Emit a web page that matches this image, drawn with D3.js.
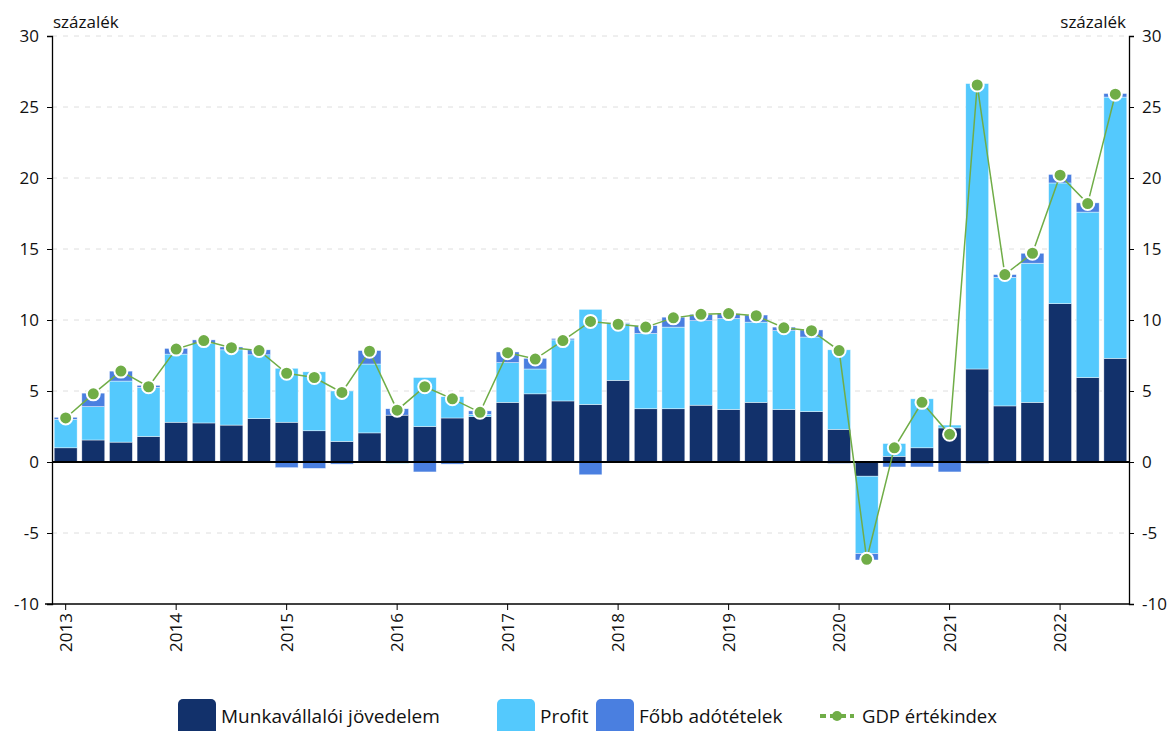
<!DOCTYPE html>
<html>
<head>
<meta charset="utf-8">
<script src="https://cdn.jsdelivr.net/npm/d3@7"></script>
<style>
  body { margin: 0; background: #fff; }
  svg text { font-family: "Open Sans", "Noto Sans", sans-serif; fill: #111; }
</style>
</head>
<body>
<div id="chart"></div>
<script>
// quarterly data 2013Q1 - 2022Q3
const years = ["2013","2014","2015","2016","2017","2018","2019","2020","2021","2022"];
const compensation = [1.0,1.55,1.4,1.8, 2.8,2.75,2.6,3.05, 2.8,2.2,1.45,2.05, 3.3,2.5,3.1,3.2,
  4.2,4.8,4.3,4.05, 5.75,3.75,3.75,4.0, 3.7,4.2,3.7,3.55, 2.3,-1.0,0.4,1.0, 2.4,6.55,3.95,4.2, 11.15,5.95,7.3];
const profit = [2.0,2.35,4.3,3.45, 4.8,5.6,5.3,4.5, 3.8,4.15,3.55,4.85, -0.1,3.45,1.5,0.15,
  2.8,1.75,4.3,6.7, 4.0,5.3,5.75,5.95, 6.4,5.65,5.55,5.25, 5.6,-5.45,0.9,3.45, 0.2,20.1,9.05,9.8, 8.5,11.65,18.4];
const taxes = [0.15,0.95,0.7,0.15, 0.4,0.25,0.2,0.35, -0.4,-0.45,-0.15,0.95, 0.45,-0.7,-0.15,0.25,
  0.75,0.75,0.1,-0.9, 0.05,0.55,0.7,0.45, 0.35,0.5,0.25,0.5, -0.1,-0.45,-0.35,-0.35, -0.7,-0.1,0.2,0.7, 0.6,0.65,0.25];
const gdp = [3.1,4.8,6.4,5.3, 7.95,8.55,8.05,7.85, 6.25,5.95,4.9,7.8, 3.65,5.3,4.45,3.5,
  7.7,7.25,8.55,9.9, 9.7,9.5,10.15,10.4, 10.45,10.3,9.45,9.25, 7.85,-6.85,1.0,4.2, 1.95,26.55,13.2,14.7, 20.2,18.2,25.9];
const yTicks = [-10,-5,0,5,10,15,20,25,30];

const seriesNames = ["Munkavállalói jövedelem", "Profit", "Főbb adótételek"];
const colors = ["#12316b", "#54c9fd", "#4a7fe0"];
const green = "#70ad47";

const width = 1174, height = 731;
const svg = d3.select("#chart").append("svg")
    .attr("width", width).attr("height", height);

const quarters = d3.range(compensation.length);
const x = d3.scaleBand().domain(quarters).range([52, 1129]).paddingInner(0.17).paddingOuter(0.08);
const y = d3.scaleLinear().domain([-10, 30]).range([604, 36]);

// grid lines
svg.append("g").selectAll("line")
    .data(yTicks.filter(d => d !== 0 && d !== -10))
    .enter().append("line")
    .attr("x1", 52).attr("x2", 1129)
    .attr("y1", d => y(d)).attr("y2", d => y(d))
    .attr("stroke", "#dedede").attr("stroke-dasharray", "5,6");

// stacked bars, positives up and negatives down
const stacks = quarters.map(i => {
    let pos = 0, neg = 0;
    return [compensation[i], profit[i], taxes[i]].map((v, k) => {
        let y0, y1;
        if (v >= 0) { y0 = pos; y1 = pos + v; pos = y1; }
        else { y0 = neg; y1 = neg + v; neg = y1; }
        return {i: i, k: k, y0: y0, y1: y1};
    });
});

svg.append("g").selectAll("g")
    .data(stacks).enter().append("g")
    .selectAll("rect")
    .data(d => d).enter().append("rect")
    .attr("x", d => x(d.i))
    .attr("width", x.bandwidth())
    .attr("y", d => y(Math.max(d.y0, d.y1)))
    .attr("height", d => Math.abs(y(d.y0) - y(d.y1)))
    .attr("fill", d => colors[d.k])
    .attr("stroke", "#fff").attr("stroke-width", 0.6).attr("stroke-opacity", 0.7);

// zero line
svg.append("line")
    .attr("x1", 52).attr("x2", 1129)
    .attr("y1", y(0)).attr("y2", y(0))
    .attr("stroke", "#000").attr("stroke-width", 2);

// GDP line
const line = d3.line().x((d, i) => x(i) + x.bandwidth() / 2).y(d => y(d));
svg.append("path").datum(gdp)
    .attr("d", line).attr("fill", "none")
    .attr("stroke", green).attr("stroke-width", 1.5);

svg.append("g").selectAll("circle")
    .data(gdp).enter().append("circle")
    .attr("cx", (d, i) => x(i) + x.bandwidth() / 2)
    .attr("cy", d => y(d))
    .attr("r", 6.5)
    .attr("fill", green).attr("stroke", "#fff").attr("stroke-width", 2);

// axes (hyphen minus like the original)
const fmt = d => String(d);
const leftAxis = svg.append("g").attr("transform", "translate(52,0)")
    .call(d3.axisLeft(y).tickValues(yTicks).tickFormat(fmt).tickSize(5).tickPadding(8));
const rightAxis = svg.append("g").attr("transform", "translate(1129,0)")
    .call(d3.axisRight(y).tickValues(yTicks).tickFormat(fmt).tickSize(5).tickPadding(8));
[leftAxis, rightAxis].forEach(a => {
    a.select(".domain").attr("stroke", "#000").attr("stroke-width", 1.3);
    a.selectAll(".tick line").attr("stroke", "#000");
    a.selectAll(".tick text").style("font-size", "17px").style("font-family", "\"Open Sans\", sans-serif");
});

// bottom axis with year labels at first quarters
svg.append("line")
    .attr("x1", 45).attr("x2", 1129)
    .attr("y1", y(-10)).attr("y2", y(-10))
    .attr("stroke", "#000").attr("stroke-width", 1.3);

const yearTicks = svg.append("g").selectAll("g")
    .data(years).enter().append("g")
    .attr("transform", (d, j) => "translate(" + (x(j * 4) + x.bandwidth() / 2) + "," + y(-10) + ")");
yearTicks.append("line").attr("y1", 0).attr("y2", 6).attr("stroke", "#000");
yearTicks.append("text")
    .attr("transform", "rotate(-90)")
    .attr("x", -9).attr("dy", "0.35em")
    .attr("text-anchor", "end")
    .style("font-size", "17px")
    .text(d => d);

// unit labels
svg.append("text").attr("x", 53).attr("y", 28).style("font-size", "17px").text("százalék");
svg.append("text").attr("x", 1126).attr("y", 28).attr("text-anchor", "end").style("font-size", "17px").text("százalék");

// legend
const legend = svg.append("g");
const legendX = [178, 497, 596];
seriesNames.forEach((name, k) => {
    legend.append("rect")
        .attr("x", legendX[k]).attr("y", 699)
        .attr("width", 38).attr("height", 40).attr("rx", 5)
        .attr("fill", colors[k]);
    legend.append("text")
        .attr("x", legendX[k] + 43).attr("y", 723)
        .style("font-size", "19px")
        .text(name);
});
legend.append("line")
    .attr("x1", 820).attr("x2", 854).attr("y1", 716).attr("y2", 716)
    .attr("stroke", green).attr("stroke-width", 4).attr("stroke-dasharray", "6,4");
legend.append("circle")
    .attr("cx", 837).attr("cy", 716).attr("r", 5).attr("fill", green);
legend.append("text")
    .attr("x", 862).attr("y", 723)
    .style("font-size", "18.5px")
    .text("GDP értékindex");
</script>
</body>
</html>
